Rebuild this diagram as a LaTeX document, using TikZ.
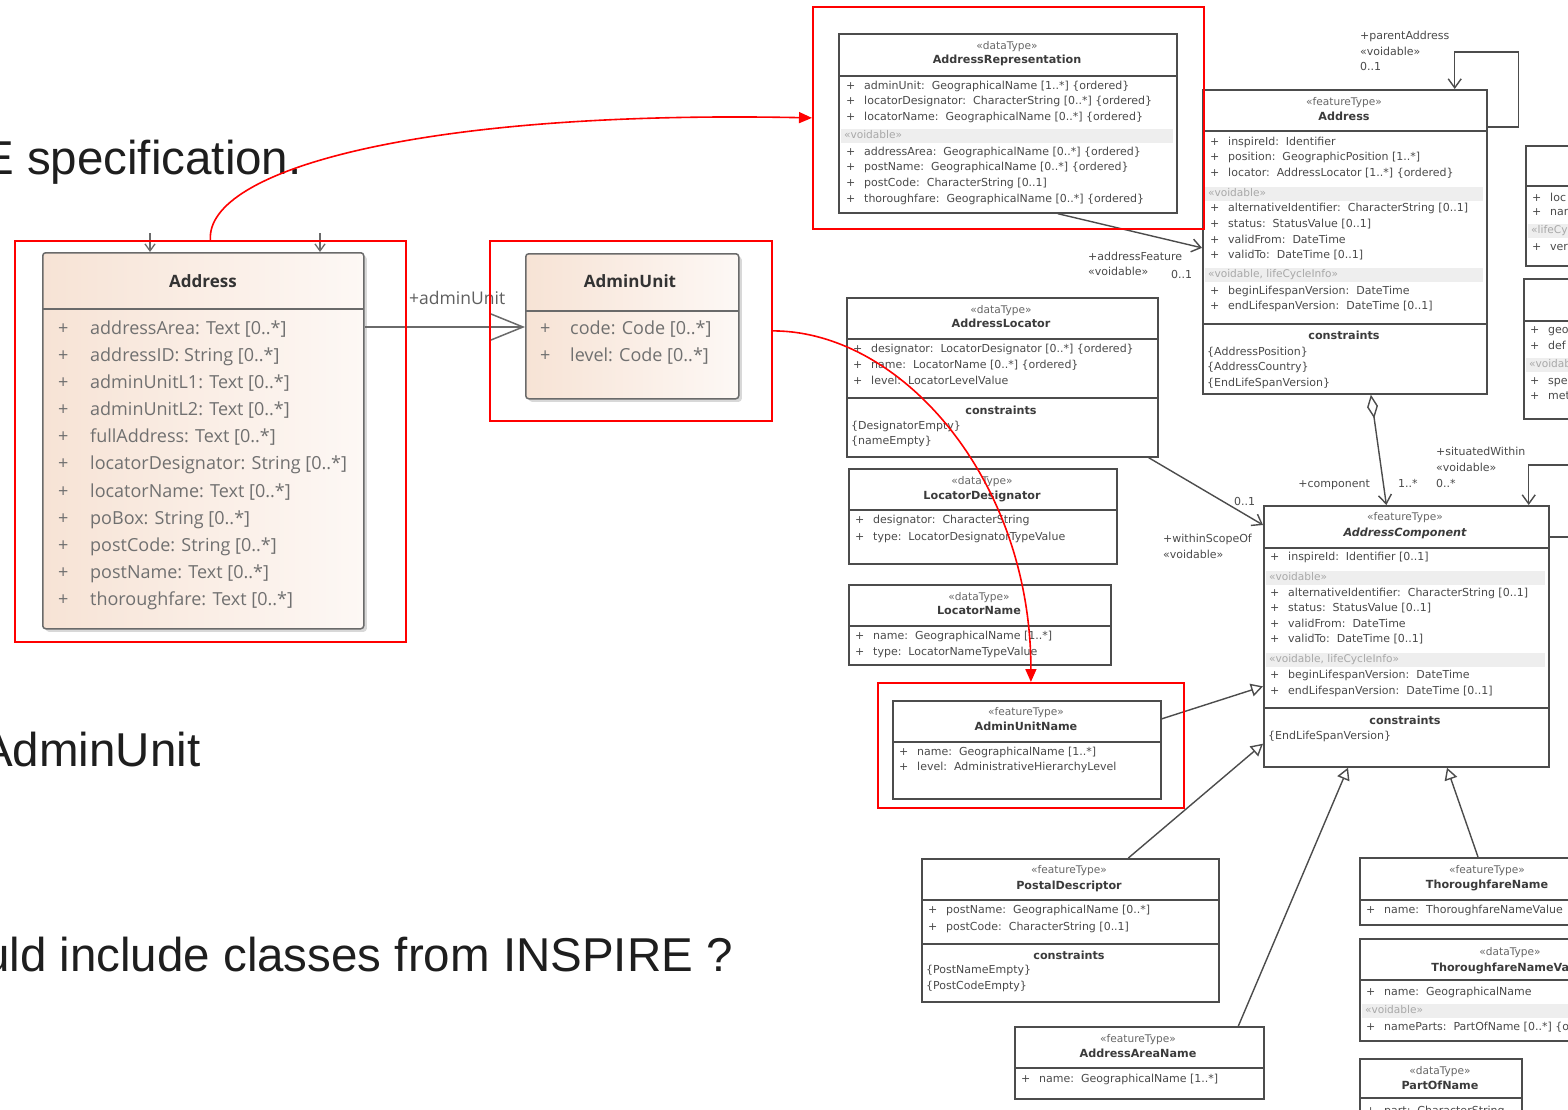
\documentclass[tikz,border=0pt]{standalone}
\usepackage{fontspec}
\setmainfont{Liberation Sans}
\newfontfamily\uifont{Open Sans}
\newfontfamily\umlfont{DejaVu Sans}
\usetikzlibrary{arrows.meta,shadows}

\definecolor{slidetxt}{HTML}{1E1E1E}
\definecolor{umlline}{HTML}{4C4C4C}
\definecolor{umltxt}{HTML}{4A4A4A}
\definecolor{stereotxt}{HTML}{666666}
\definecolor{bandfill}{HTML}{EEEEEE}
\definecolor{bandtxt}{HTML}{A8A8A8}
\definecolor{uiline}{HTML}{6A6A6A}
\definecolor{uitxt}{HTML}{707070}
\definecolor{uititle}{HTML}{333333}
\definecolor{peach}{HTML}{F7E3D5}
\definecolor{peachlight}{HTML}{FDF8F5}

% UML class helpers (coordinates in px, y downwards)
\newcommand\uBox[5]{\node[umlbox,minimum width=#4pt,minimum height=#5pt] (#1) at (#2,#3) {};}
\newcommand\uSep[3]{\draw[umlsep] (#1,#3) -- (#2,#3);}
\newcommand\uStereo[3]{\node[stereo] at (#1,#2) {«#3»};}
\newcommand\uName[3]{\node[cname] at (#1,#2) {#3};}
\newcommand\uAttr[4]{\node[attr] at (#1,#3) {+};\node[attr] at (#2,#3) {#4};}
\newcommand\uText[3]{\node[attr] at (#1,#2) {#3};}
\newcommand\uBand[4]{\fill[bandfill] (#1,#3-7) rectangle (#2,#3+7);\node[band] at (#1+3,#3) {«#4»};}
\newcommand\uLabel[3]{\node[lbl] at (#1,#2) {#3};}
\newcommand\uiAttr[4]{\node[uiattr] at (#1,#3) {+};\node[uiattr] at (#2,#3) {#4};}

\begin{document}
\begin{tikzpicture}[x=1pt,y=-1pt,
  umlbox/.style={draw=umlline,line width=1.7pt,fill=white,rectangle,inner sep=0pt,anchor=north west},
  umlsep/.style={draw=umlline,line width=1.5pt},
  stereo/.style={inner sep=0pt,anchor=mid,text=stereotxt,font=\umlfont\fontsize{10.6}{12}\selectfont},
  cname/.style={inner sep=0pt,anchor=mid,text=umltxt!80!black,font=\umlfont\fontsize{11.2}{13}\selectfont\bfseries},
  attr/.style={inner sep=0pt,anchor=mid west,text=umltxt,font=\umlfont\fontsize{11}{13}\selectfont},
  band/.style={inner sep=0pt,anchor=mid west,text=bandtxt,font=\umlfont\fontsize{10.6}{12}\selectfont},
  lbl/.style={inner sep=0pt,anchor=mid west,text=umltxt,font=\umlfont\fontsize{11}{12}\selectfont},
  assoc/.style={draw=umlline,line width=1.4pt,-{Straight Barb[length=9pt,width=13pt]}},
  gener/.style={draw=umlline,line width=1.4pt,-{Triangle[open,length=12pt,width=13pt,fill=white]}},
  uibox/.style={draw=uiline,line width=1.5pt,rounded corners=3pt,rectangle,inner sep=0pt,anchor=north west,
    left color=peach,right color=peachlight,
    drop shadow={shadow xshift=3pt,shadow yshift=-3pt,opacity=.25,fill=black!60}},
  uisep/.style={draw=uiline,line width=1.5pt},
  uititle/.style={inner sep=0pt,anchor=mid,text=uititle,font=\uifont\fontsize{17}{20}\selectfont\bfseries},
  uiattr/.style={inner sep=0pt,anchor=mid west,text=uitxt,font=\uifont\fontsize{18}{21}\selectfont},
  redbox/.style={draw=red,line width=1.8pt,rectangle,inner sep=0pt,anchor=north west},
  redarrow/.style={draw=red,line width=1.6pt,-{Triangle[length=13pt,width=11pt]}},
  slide/.style={inner sep=0pt,text=slidetxt,font=\fontsize{47.5}{52}\selectfont}
]
\useasboundingbox (0,0) rectangle (1568,1110);
\fill[white] (0,0) rectangle (1568,1110);

% ---------------- slide text ----------------
\node[slide,anchor=base west] (t1) at (-18,175) {E specification.};
\node[slide,anchor=base west] (t2) at (-19,766) {AdminUnit};
\node[slide,anchor=base east] (t3) at (733,971) {uld include classes from INSPIRE ?};

% ---------------- simplified model ----------------
\node[uibox,minimum width=321pt,minimum height=376pt] (laddr) at (42,252) {};
\draw[uisep] (42,309) -- (363,309);
\node[uititle] at (203,285) {Address};
\uiAttr{58}{90}{332}{addressArea: Text [0..*]}
\uiAttr{58}{90}{359}{addressID: String [0..*]}
\uiAttr{58}{90}{386}{adminUnitL1: Text [0..*]}
\uiAttr{58}{90}{413}{adminUnitL2: Text [0..*]}
\uiAttr{58}{90}{440}{fullAddress: Text [0..*]}
\uiAttr{58}{90}{467}{locatorDesignator: String [0..*]}
\uiAttr{58}{90}{495}{locatorName: Text [0..*]}
\uiAttr{58}{90}{522}{poBox: String [0..*]}
\uiAttr{58}{90}{549}{postCode: String [0..*]}
\uiAttr{58}{90}{576}{postName: Text [0..*]}
\uiAttr{58}{90}{603}{thoroughfare: Text [0..*]}

\node[uibox,minimum width=213pt,minimum height=145pt] (lau) at (525,253) {};
\draw[uisep] (525,311) -- (738,311);
\node[uititle] at (630,285) {AdminUnit};
\uiAttr{540}{570}{332}{code: Code [0..*]}
\uiAttr{540}{570}{359}{level: Code [0..*]}

\draw[draw=uiline,line width=1.5pt,-{Straight Barb[length=32pt,width=26pt]}]
  ([yshift=-75pt]laddr.north east) -- ([yshift=-74pt]lau.north west);
\node[inner sep=0pt,anchor=mid west,text=uitxt!85!black,font=\uifont\fontsize{17.5}{20}\selectfont] (aulbl) at (409,302) {+adminUnit};

% incoming links on top of Address
\coordinate (in1) at (150,233);
\coordinate (in2) at (320,233);
\draw[draw=uiline,line width=1.3pt,-{Straight Barb[length=7pt,width=10pt]}] (in1) -- (in1 |- laddr.north);
\draw[draw=uiline,line width=1.3pt,-{Straight Barb[length=7pt,width=10pt]}] (in2) -- (in2 |- laddr.north);

% ---------------- INSPIRE model ----------------
% AddressRepresentation
\uBox{arep}{838}{33}{338}{179}
\uSep{838}{1176}{76}
\uStereo{1007}{47}{dataType}
\uName{1007}{61}{AddressRepresentation}
\uAttr{846}{864}{87}{adminUnit:\ \ GeographicalName [1..*] \{ordered\}}
\uAttr{846}{864}{102}{locatorDesignator:\ \ CharacterString [0..*] \{ordered\}}
\uAttr{846}{864}{118}{locatorName:\ \ GeographicalName [0..*] \{ordered\}}
\uBand{841}{1173}{136}{voidable}
\uAttr{846}{864}{153}{addressArea:\ \ GeographicalName [0..*] \{ordered\}}
\uAttr{846}{864}{168}{postName:\ \ GeographicalName [0..*] \{ordered\}}
\uAttr{846}{864}{184}{postCode:\ \ CharacterString [0..1]}
\uAttr{846}{864}{200}{thoroughfare:\ \ GeographicalName [0..*] \{ordered\}}

% Address
\uBox{addr}{1202}{89}{284}{304}
\uSep{1202}{1486}{131}
\uStereo{1344}{103}{featureType}
\uName{1344}{118}{Address}
\uAttr{1210}{1228}{143}{inspireId:\ \ Identifier}
\uAttr{1210}{1228}{158}{position:\ \ GeographicPosition [1..*]}
\uAttr{1210}{1228}{174}{locator:\ \ AddressLocator [1..*] \{ordered\}}
\uBand{1205}{1483}{194}{voidable}
\uAttr{1210}{1228}{209}{alternativeIdentifier:\ \ CharacterString [0..1]}
\uAttr{1210}{1228}{225}{status:\ \ StatusValue [0..1]}
\uAttr{1210}{1228}{241}{validFrom:\ \ DateTime}
\uAttr{1210}{1228}{256}{validTo:\ \ DateTime [0..1]}
\uBand{1205}{1483}{275}{voidable, lifeCycleInfo}
\uAttr{1210}{1228}{292}{beginLifespanVersion:\ \ DateTime}
\uAttr{1210}{1228}{307}{endLifespanVersion:\ \ DateTime [0..1]}
\uSep{1202}{1486}{324}
\uName{1344}{337}{constraints}
\uText{1207}{353}{\{AddressPosition\}}
\uText{1207}{368}{\{AddressCountry\}}
\uText{1207}{384}{\{EndLifeSpanVersion\}}

% partial classes at the right edge
\uBox{rbone}{1525}{145}{140}{120}
\uSep{1525}{1665}{186}
\uAttr{1532}{1550}{199}{loc}
\uAttr{1532}{1550}{213}{nam}
\uBand{1528}{1665}{231}{lifeCy}
\uAttr{1532}{1550}{248}{ver}
\uBox{rbtwo}{1523}{278}{140}{140}
\uSep{1523}{1663}{321}
\uAttr{1530}{1548}{331}{geo}
\uAttr{1530}{1548}{347}{def}
\uBand{1526}{1663}{365}{voidab}
\uAttr{1530}{1548}{382}{spe}
\uAttr{1530}{1548}{397}{met}

% AddressLocator
\uBox{aloc}{846}{297}{311}{159}
\uSep{846}{1157}{339}
\uStereo{1001}{311}{dataType}
\uName{1001}{325}{AddressLocator}
\uAttr{853}{871}{350}{designator:\ \ LocatorDesignator [0..*] \{ordered\}}
\uAttr{853}{871}{366}{name:\ \ LocatorName [0..*] \{ordered\}}
\uAttr{853}{871}{382}{level:\ \ LocatorLevelValue}
\uSep{846}{1157}{398}
\uName{1001}{412}{constraints}
\uText{851}{427}{\{DesignatorEmpty\}}
\uText{851}{442}{\{nameEmpty\}}

% LocatorDesignator
\uBox{ldes}{848}{468}{268}{95}
\uSep{848}{1116}{510}
\uStereo{982}{482}{dataType}
\uName{982}{497}{LocatorDesignator}
\uAttr{855}{873}{521}{designator:\ \ CharacterString}
\uAttr{855}{873}{538}{type:\ \ LocatorDesignatorTypeValue}

% LocatorName
\uBox{lnam}{848}{584}{262}{80}
\uSep{848}{1110}{626}
\uStereo{979}{598}{dataType}
\uName{979}{612}{LocatorName}
\uAttr{855}{873}{637}{name:\ \ GeographicalName [1..*]}
\uAttr{855}{873}{653}{type:\ \ LocatorNameTypeValue}

% AdminUnitName
\uBox{aun}{892}{700}{268}{98}
\uSep{892}{1160}{742}
\uStereo{1026}{713}{featureType}
\uName{1026}{728}{AdminUnitName}
\uAttr{899}{917}{753}{name:\ \ GeographicalName [1..*]}
\uAttr{899}{917}{768}{level:\ \ AdministrativeHierarchyLevel}

% PostalDescriptor
\uBox{pdesc}{921}{858}{297}{143}
\uSep{921}{1218}{900}
\uStereo{1069}{871}{featureType}
\uName{1069}{887}{PostalDescriptor}
\uAttr{928}{946}{911}{postName:\ \ GeographicalName [0..*]}
\uAttr{928}{946}{928}{postCode:\ \ CharacterString [0..1]}
\uSep{921}{1218}{944}
\uName{1069}{957}{constraints}
\uText{926}{971}{\{PostNameEmpty\}}
\uText{926}{987}{\{PostCodeEmpty\}}

% AddressAreaName
\uBox{aan}{1014}{1026}{249}{72}
\uSep{1014}{1263}{1068}
\uStereo{1138}{1040}{featureType}
\uName{1138}{1055}{AddressAreaName}
\uAttr{1021}{1039}{1080}{name:\ \ GeographicalName [1..*]}

% AddressComponent
\uBox{acomp}{1263}{505}{285}{261}
\uSep{1263}{1548}{548}
\uStereo{1405}{518}{featureType}
\node[cname,font=\umlfont\fontsize{11.2}{13}\selectfont\bfseries\itshape] (acname) at (1405,534) {AddressComponent};
\uAttr{1270}{1288}{558}{inspireId:\ \ Identifier [0..1]}
\uBand{1266}{1545}{578}{voidable}
\uAttr{1270}{1288}{594}{alternativeIdentifier:\ \ CharacterString [0..1]}
\uAttr{1270}{1288}{609}{status:\ \ StatusValue [0..1]}
\uAttr{1270}{1288}{625}{validFrom:\ \ DateTime}
\uAttr{1270}{1288}{640}{validTo:\ \ DateTime [0..1]}
\uBand{1266}{1545}{660}{voidable, lifeCycleInfo}
\uAttr{1270}{1288}{676}{beginLifespanVersion:\ \ DateTime}
\uAttr{1270}{1288}{692}{endLifespanVersion:\ \ DateTime [0..1]}
\uSep{1263}{1548}{708}
\uName{1405}{722}{constraints}
\uText{1268}{737}{\{EndLifeSpanVersion\}}

% ThoroughfareName
\uBox{tfn}{1359}{857}{256}{67}
\uSep{1359}{1615}{900}
\uStereo{1487}{871}{featureType}
\uName{1487}{886}{ThoroughfareName}
\uAttr{1366}{1384}{911}{name:\ \ ThoroughfareNameValue}

% ThoroughfareNameValue
\uBox{tfnv}{1359}{938}{302}{102}
\uSep{1359}{1661}{980}
\uStereo{1510}{953}{dataType}
\uName{1510}{969}{ThoroughfareNameValue}
\uAttr{1366}{1384}{993}{name:\ \ GeographicalName}
\uBand{1362}{1661}{1011}{voidable}
\uAttr{1366}{1384}{1028}{nameParts:\ \ PartOfName [0..*] \{ordered\}}

% PartOfName
\uBox{pon}{1359}{1058}{162}{80}
\uSep{1359}{1521}{1098}
\uStereo{1440}{1072}{dataType}
\uName{1440}{1087}{PartOfName}
\uAttr{1366}{1384}{1112}{part:\ \ CharacterString}

% ---------------- INSPIRE connectors ----------------
\draw[assoc] ([xshift=50pt]arep.south) -- ([yshift=-6pt]addr.west);
\uLabel{1088}{258}{+addressFeature}
\uLabel{1088}{273}{«voidable»}
\uLabel{1171}{276}{0..1}

\draw[assoc] ([yshift=-38pt]addr.north east) -- ++(31,0) -- ++(0,-75) -| ([xshift=-33pt]addr.north east);
\uLabel{1360}{37}{+parentAddress}
\uLabel{1360}{53}{«voidable»}
\uLabel{1360}{68}{0..1}

\draw[draw=umlline,line width=1.4pt,{Diamond[open,length=24pt,width=11pt,fill=white]}-{Straight Barb[length=9pt,width=13pt]}]
  ([xshift=26pt]addr.south) -- ([xshift=-20pt]acomp.north);
\node[lbl,anchor=mid east] (complbl) at (1370,485) {+component};
\uLabel{1398}{485}{1..*}

\draw[assoc] ([xshift=-10pt]aloc.south east) -- ([yshift=-20pt]acomp.north west);
\uLabel{1234}{503}{0..1}
\uLabel{1163}{540}{+withinScopeOf}
\uLabel{1163}{556}{«voidable»}

\draw[assoc] ([yshift=-32pt]acomp.north east) -- ++(32,0) -- ++(0,-72) -| ([xshift=-21pt]acomp.north east);
\uLabel{1436}{453}{+situatedWithin}
\uLabel{1436}{469}{«voidable»}
\uLabel{1436}{485}{0..*}

\draw[gener] ([yshift=31pt]aun.east) -- ([yshift=-50pt]acomp.west);
\draw[gener] ([xshift=58pt]pdesc.north) -- ([yshift=24pt]acomp.south west);
\draw[gener] ([xshift=99pt]aan.north) -- ([xshift=85pt]acomp.south west);
\draw[gener] ([xshift=119pt]tfn.north west) -- ([xshift=184pt]acomp.south west);

% ---------------- highlight frames and links ----------------
\node[redbox,minimum width=391pt,minimum height=401pt] (rAddr) at (14,240) {};
\node[redbox,minimum width=282pt,minimum height=180pt] (rAU) at (489,240) {};
\node[redbox,minimum width=391pt,minimum height=222pt] (rArep) at (812,6) {};
\node[redbox,minimum width=306pt,minimum height=125pt] (rAun) at (877,682) {};

\draw[redarrow] (rAddr.north) .. controls +(-5,-70) and +(-392,-8) .. (rArep.west);
\draw[redarrow] (rAU.east) .. controls +(129,0) and +(0,-202) .. (rAun.north);
\end{tikzpicture}
\end{document}
